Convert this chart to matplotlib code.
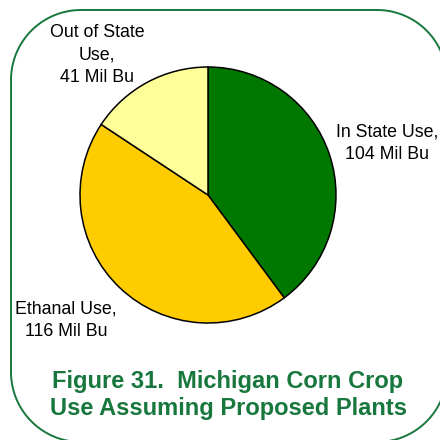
import matplotlib
matplotlib.use('Agg')
import matplotlib.pyplot as plt
import numpy as np

plt.rcParams['font.family'] = ['Liberation Sans', 'DejaVu Sans']

# data
names = ['In State Use', 'Ethanal Use', 'Out of State\nUse']
values = [104, 116, 41]
colors = ['#007800', '#FFCC00', '#FFFF99']
title = 'Figure 31.  Michigan Corn Crop\nUse Assuming Proposed Plants'

green = '#18773D'

fig = plt.figure(figsize=(4.4, 4.4), dpi=100)
# one axes over the whole figure, units = pixels, y measured from top
ax = fig.add_axes([0, 0, 1, 1])


def rounded_rect(x0, y0, x1, y1, rad, n=40):
    # corner centres and angle ranges (y grows downward)
    corners = [((x1 - rad, y0 + rad), -90, 0),
               ((x1 - rad, y1 - rad), 0, 90),
               ((x0 + rad, y1 - rad), 90, 180),
               ((x0 + rad, y0 + rad), 180, 270)]
    xs, ys = [], []
    for (cx, cy), a0, a1 in corners:
        t = np.radians(np.linspace(a0, a1, n))
        xs.extend(cx + rad * np.cos(t))
        ys.extend(cy + rad * np.sin(t))
    xs.append(xs[0])
    ys.append(ys[0])
    return xs, ys


# rounded frame, partly off the canvas at right and bottom
fx, fy = rounded_rect(11, 10, 447, 442, 70)
ax.plot(fx, fy, color=green, linewidth=1.4)

# pie (y axis is inverted, so counterclock=True draws clockwise on screen)
ax.pie(values, colors=colors, startangle=-90, counterclock=True,
       center=(208, 195), radius=128, frame=True,
       wedgeprops=dict(edgecolor='black', linewidth=1.1))
ax.set_xlim(0, 440)
ax.set_ylim(440, 0)
ax.set_aspect('equal')
ax.axis('off')

# slice labels (pixel positions from the top-left)
label_pos = [(387, 143), (66, 320), (97, 55)]
for name, v, (x, y) in zip(names, values, label_pos):
    ax.text(x, y, f'{name},\n{v} Mil Bu', ha='center', va='center',
            multialignment='center', fontsize=12.8, linespacing=1.45, color='black')

ax.text(228, 395, title, ha='center', va='center',
        multialignment='center', fontsize=17, fontweight='bold',
        color=green, linespacing=1.2)

fig.savefig('out.png', dpi=100)
